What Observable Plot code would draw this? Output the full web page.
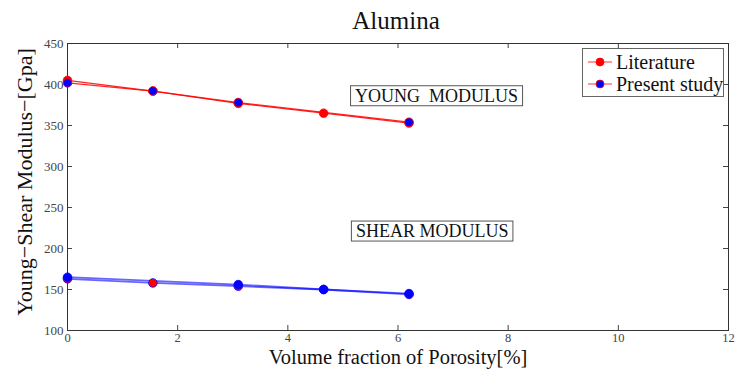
<!DOCTYPE html>
<html><head><meta charset="utf-8">
<script src="https://cdn.jsdelivr.net/npm/d3@7"></script>
<script src="https://cdn.jsdelivr.net/npm/@observablehq/plot@0.6"></script>
<style>
body{margin:0;background:#fff;}
#wrap{position:relative;width:736px;height:372px;font-family:"Liberation Serif","DejaVu Serif",serif;color:#111;}
#title{position:absolute;left:0;top:6px;width:792px;text-align:center;font-size:25px;line-height:30px;}
#legend{position:absolute;left:582px;top:48px;width:142px;height:49px;border:1px solid #666;background:#fff;box-sizing:border-box;}
.row{position:absolute;left:4px;height:22px;display:flex;align-items:center;font-size:20px;white-space:nowrap;}
.row svg{margin-right:3px;}
</style>
</head><body>
<div id="wrap">
<div id="title">Alumina</div>
<div id="chart"></div>
<div id="legend"></div>
</div>
<script>
// ---- data ----
const porosityLit = [0, 1.55, 3.1, 4.65, 6.2];
const youngLiterature = [405, 392, 377, 365, 353];
const porosityYoungPresent = [0, 1.55, 3.1, 6.2];
const youngPresent = [402, 392, 378, 354];
const shearLiterature = [163, 158, 154, 150, 144];
const porosityShearPresent = [0, 3.1, 4.65, 6.2];
const shearPresent = [165, 156, 150, 145];
const xTicks = [0, 2, 4, 6, 8, 10, 12];
const yTicks = [100, 150, 200, 250, 300, 350, 400, 450];
const seriesNames = ["Literature", "Present study"];
const annotationText = ["YOUNG  MODULUS", "SHEAR MODULUS"];
const annotationX = [6.7, 6.62];
const annotationY = [386, 221];
const xLabel = "Volume fraction of Porosity[%]";
const yLabel = "Young\u2212Shear Modulus\u2212[Gpa]";

const toRows = (xs, ys) => xs.map((x, i) => ({x, y: ys[i]}));
const yl = toRows(porosityLit, youngLiterature);
const yp = toRows(porosityYoungPresent, youngPresent);
const sl = toRows(porosityLit, shearLiterature);
const sp = toRows(porosityShearPresent, shearPresent);
const ann = annotationText.map((t, i) => ({t, x: annotationX[i], y: annotationY[i]}));

const RED = "#ff0000", BLUE = "#0000ff";
const W = 736, H = 372, ML = 67, MR = 8, MT = 43, MB = 42;
const FW = W - ML - MR, FH = H - MT - MB, TK = 5;

const chart = Plot.plot({
  width: W, height: H,
  marginLeft: ML, marginRight: MR, marginTop: MT, marginBottom: MB,
  x: {domain: [0, 12]},
  y: {domain: [100, 450]},
  style: {fontFamily: "'Liberation Serif', serif", fontSize: "13px", color: "#333", background: "transparent"},
  marks: [
    Plot.axisX({ticks: xTicks, tickSize: 0, tickPadding: 3, label: null, fill: "#444", fontSize: 12.5}),
    Plot.axisY({ticks: yTicks, tickSize: 0, tickPadding: 4, label: null, fill: "#444"}),
    Plot.tickX(xTicks, {x: d => d, insetTop: FH - TK, stroke: "#444"}),
    Plot.tickX(xTicks, {x: d => d, insetBottom: FH - TK, stroke: "#444"}),
    Plot.tickY(yTicks, {y: d => d, insetRight: FW - TK, stroke: "#444"}),
    Plot.tickY(yTicks, {y: d => d, insetLeft: FW - TK, stroke: "#444"}),
    Plot.frame({stroke: "#333"}),
    Plot.line(yl, {x: "x", y: "y", stroke: RED, strokeWidth: 1.3, strokeOpacity: 0.85}),
    Plot.line(yp, {x: "x", y: "y", stroke: RED, strokeWidth: 1.3, strokeOpacity: 0.85}),
    Plot.line(sl, {x: "x", y: "y", stroke: BLUE, strokeWidth: 1.8, strokeOpacity: 0.6}),
    Plot.line(sp, {x: "x", y: "y", stroke: BLUE, strokeWidth: 1.8, strokeOpacity: 0.6}),
    Plot.dot(yl, {x: "x", y: "y", r: 4.3, fill: RED, stroke: RED, strokeWidth: 0.8}),
    Plot.dot(sl, {x: "x", y: "y", r: 4.3, fill: RED, stroke: BLUE, strokeWidth: 0.8}),
    Plot.dot(yp, {x: "x", y: "y", r: 4.3, fill: BLUE, stroke: RED, strokeWidth: 0.8}),
    Plot.dot(sp, {x: "x", y: "y", r: 4.3, fill: BLUE, stroke: BLUE, strokeWidth: 0.8}),
    Plot.text(ann, {x: "x", y: "y", text: "t", fontSize: 18, fill: "#111"}),
    Plot.text([xLabel], {frameAnchor: "bottom", textAnchor: "middle", lineAnchor: "middle", dy: 27, fontSize: 20.5, fill: "#111"}),
    Plot.text([yLabel], {frameAnchor: "left", textAnchor: "middle", lineAnchor: "middle", rotate: -90, dx: -43, dy: -5, fontSize: 22, fill: "#111"})
  ]
});
document.getElementById("chart").appendChild(chart);

// boxes around annotation labels
chart.querySelectorAll("text").forEach(t => {
  if (!annotationText.includes(t.textContent)) return;
  const b = t.getBBox();
  const r = document.createElementNS("http://www.w3.org/2000/svg", "rect");
  r.setAttribute("x", b.x - 4.5); r.setAttribute("y", b.y);
  r.setAttribute("width", b.width + 9); r.setAttribute("height", b.height);
  r.setAttribute("fill", "#fff"); r.setAttribute("stroke", "#555");
  const tr = t.getAttribute("transform");
  if (tr) r.setAttribute("transform", tr);
  t.parentNode.insertBefore(r, t);
});

// legend
const legend = document.getElementById("legend");
const faces = [RED, BLUE];
seriesNames.forEach((name, i) => {
  const row = document.createElement("div");
  row.className = "row";
  row.style.top = (2 + i * 22) + "px";
  row.innerHTML = `<svg width="26" height="12"><line x1="1" y1="6" x2="25" y2="6" stroke="${RED}" stroke-width="1" stroke-opacity="0.8"/><circle cx="13" cy="6" r="4" fill="${faces[i]}" stroke="${RED}" stroke-width="0.8"/></svg><span>${name}</span>`;
  legend.appendChild(row);
});
</script>
</body></html>
